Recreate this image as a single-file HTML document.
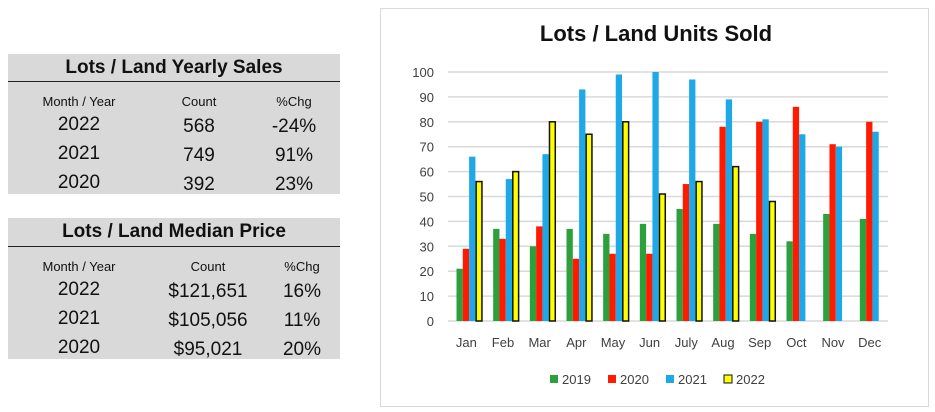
<!DOCTYPE html>
<html><head><meta charset="utf-8"><style>
body{margin:0;width:935px;height:412px;background:#fff;font-family:"Liberation Sans",Arial,sans-serif;position:relative;overflow:hidden}
.tbl{position:absolute;left:8px;width:332px;background:#d9d9d9}
.ttl{position:absolute;left:0;width:332px;text-align:center;font-weight:bold;font-size:19px;color:#111}
.line{position:absolute;left:0;width:332px;height:1px;background:#222}
.c{position:absolute;transform:translateX(-50%);white-space:nowrap;color:#111}
.h{font-size:13px}
.v{font-size:19px}
</style></head><body>
<div class="tbl" style="top:54px;height:140px">
 <div class="ttl" style="top:3px">Lots / Land Yearly Sales</div>
 <div class="line" style="top:27px"></div>
 <div class="c h" style="left:71px;top:40px">Month / Year</div><div class="c h" style="left:191px;top:40px">Count</div><div class="c h" style="left:286px;top:40px">%Chg</div>
 <div class="c v" style="left:71px;top:60px">2022</div><div class="c v" style="left:191px;top:62px">568</div><div class="c v" style="left:286px;top:62px">-24%</div>
 <div class="c v" style="left:71px;top:89px">2021</div><div class="c v" style="left:191px;top:91px">749</div><div class="c v" style="left:286px;top:91px">91%</div>
 <div class="c v" style="left:71px;top:118px">2020</div><div class="c v" style="left:191px;top:120px">392</div><div class="c v" style="left:286px;top:120px">23%</div>
</div>
<div class="tbl" style="top:218px;height:141px">
 <div class="ttl" style="top:3px">Lots / Land Median Price</div>
 <div class="line" style="top:28px"></div>
 <div class="c h" style="left:71px;top:41px">Month / Year</div><div class="c h" style="left:200px;top:41px">Count</div><div class="c h" style="left:294px;top:41px">%Chg</div>
 <div class="c v" style="left:71px;top:61px">2022</div><div class="c v" style="left:200px;top:63px">$121,651</div><div class="c v" style="left:294px;top:63px">16%</div>
 <div class="c v" style="left:71px;top:90px">2021</div><div class="c v" style="left:200px;top:92px">$105,056</div><div class="c v" style="left:294px;top:92px">11%</div>
 <div class="c v" style="left:71px;top:119px">2020</div><div class="c v" style="left:200px;top:121px">$95,021</div><div class="c v" style="left:294px;top:121px">20%</div>
</div>
<svg id="chart" width="935" height="412" style="position:absolute;left:0;top:0">
<rect x="380.5" y="8.5" width="548" height="398" fill="#fff" stroke="#d9d9d9"/>
<text x="656" y="41" text-anchor="middle" font-size="22" font-weight="bold" fill="#111">Lots / Land Units Sold</text>
</svg>
<script>
const months=["Jan","Feb","Mar","Apr","May","Jun","July","Aug","Sep","Oct","Nov","Dec"];
const s2019=[21,37,30,37,35,39,45,39,35,32,43,41];
const s2020=[29,33,38,25,27,27,55,78,80,86,71,80];
const s2021=[66,57,67,93,99,100,97,89,81,75,70,76];
const s2022=[56,60,80,75,80,51,56,62,48,null,null,null];
const yTicks=[0,10,20,30,40,50,60,70,80,90,100];
const seriesNames=["2019","2020","2021","2022"];
const svg=document.getElementById('chart');
const NS='http://www.w3.org/2000/svg';
const x0=448,x1=888,y0=321,y1=72;
const yS=v=>y0-(v/100)*(y0-y1);
const bw=(x1-x0)/months.length;
const xS=i=>x0+i*bw;
function mk(t,a){const e=document.createElementNS(NS,t);for(const k in a)e.setAttribute(k,a[k]);svg.appendChild(e);return e;}
yTicks.forEach(t=>{
 const l=mk('line',{x1:x0,x2:x1,y1:yS(t),y2:yS(t),stroke:'#d9d9d9','stroke-width':1.5});
 
 
 const tx=mk('text',{x:434,y:yS(t)+5,'text-anchor':'end','font-size':13,fill:'#404040'});
 tx.textContent=t;
 
 
});
const cols=['#2ca03c','#ff1a00','#1ea8e8','#ffff00'];
const data=[s2019,s2020,s2021,s2022];
const w=6.3;
months.forEach((m,i)=>{
 data.forEach((s,k)=>{
  const v=s[i]; if(v==null)return;
  const bx=xS(i)+8.5+k*w;
  const a={x:bx,y:yS(v),width:w,height:y0-yS(v),fill:cols[k]};
  if(k==3){a.stroke='#111';a['stroke-width']=1.5;a.x=bx+0.75;a.width=w-0.5;}
  const r=mk('rect',a);
  
  
 });
 const t=mk('text',{x:xS(i)+bw/2,y:347,'text-anchor':'middle','font-size':13,fill:'#404040'});
 t.textContent=m;
 
 
});
const lx=[550,608,666,724];
seriesNames.forEach((n,k)=>{
 const a={x:lx[k],y:375,width:8,height:8,fill:cols[k]};
 if(k==3){a.stroke='#111';a['stroke-width']=1;}
 const r=mk('rect',a);
 
 
 const t=mk('text',{x:lx[k]+12,y:384,'font-size':13,fill:'#404040'});
 t.textContent=n;
 
 
});
</script>
</body></html>
